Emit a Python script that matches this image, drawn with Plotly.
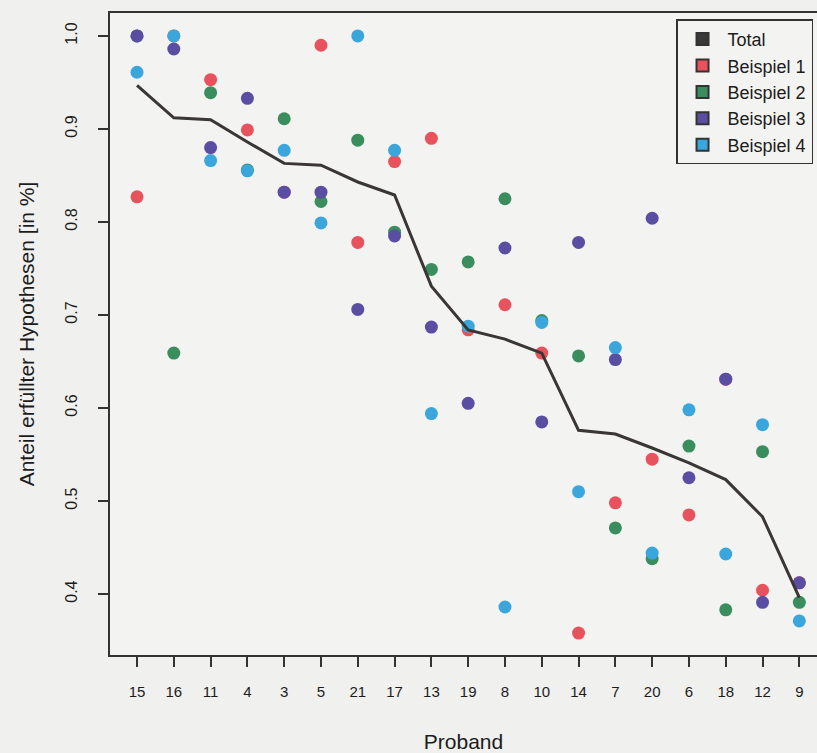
import plotly.graph_objects as go

probanden = ["15", "16", "11", "4", "3", "5", "21", "17", "13", "19",
             "8", "10", "14", "7", "20", "6", "18", "12", "9"]

total = [0.947, 0.912, 0.910, 0.886, 0.863, 0.861, 0.843, 0.829, 0.731, 0.684,
         0.674, 0.659, 0.576, 0.572, 0.557, 0.541, 0.523, 0.483, 0.396]
beispiel1 = [0.827, 1.000, 0.953, 0.899, 0.832, 0.990, 0.778, 0.865, 0.890, 0.684,
             0.711, 0.659, 0.358, 0.498, 0.545, 0.485, 0.631, 0.404, 0.412]
beispiel2 = [1.000, 0.659, 0.939, 0.856, 0.911, 0.822, 0.888, 0.789, 0.749, 0.757,
             0.825, 0.694, 0.656, 0.471, 0.438, 0.559, 0.383, 0.553, 0.391]
beispiel3 = [1.000, 0.986, 0.880, 0.933, 0.832, 0.832, 0.706, 0.785, 0.687, 0.605,
             0.772, 0.585, 0.778, 0.652, 0.804, 0.525, 0.631, 0.391, 0.412]
beispiel4 = [0.961, 1.000, 0.866, 0.855, 0.877, 0.799, 1.000, 0.877, 0.594, 0.688,
             0.386, 0.692, 0.510, 0.665, 0.444, 0.598, 0.443, 0.582, 0.371]

series = [("Beispiel 1", beispiel1, "#e8525c"),
          ("Beispiel 2", beispiel2, "#3a8d5c"),
          ("Beispiel 3", beispiel3, "#5a4ea2"),
          ("Beispiel 4", beispiel4, "#3aa6dc")]

font = "Liberation Sans, Arial, sans-serif"
ink = "#1c1c1c"

fig = go.Figure()

for name, vals, col in series:
    fig.add_trace(go.Scatter(x=probanden, y=vals, mode="markers", name=name,
                             showlegend=False,
                             marker=dict(size=13, color=col, line=dict(width=0))))

fig.add_trace(go.Scatter(x=probanden, y=total, mode="lines", name="Total",
                         showlegend=False, line=dict(color="#3a3636", width=3)))

# legend entries (square swatches)
fig.add_trace(go.Scatter(x=[None], y=[None], mode="markers", name="Total",
                         marker=dict(symbol="square", size=13, color="#3a3838",
                                     line=dict(color="#333", width=1.5))))
for name, vals, col in series:
    fig.add_trace(go.Scatter(x=[None], y=[None], mode="markers", name=name,
                             marker=dict(symbol="square", size=13, color=col,
                                         line=dict(color="#333", width=1.5))))

fig.update_layout(
    width=817, height=753,
    margin=dict(l=110, r=0, t=13, b=98),
    paper_bgcolor="#f0f0ee",
    plot_bgcolor="#f3f3f1",
    font=dict(family=font, color=ink, size=15),
    legend=dict(x=0.8006, y=0.99, xanchor="left", yanchor="top",
                bgcolor="rgba(0,0,0,0)", bordercolor="#333", borderwidth=1.5,
                font=dict(size=18, color=ink, family=font),
                entrywidth=130, entrywidthmode="pixels",
                itemsizing="constant", itemwidth=40, tracegroupgap=0),
)

fig.update_xaxes(type="category", categoryorder="array", categoryarray=probanden,
                 range=[-0.734, 18.48], showgrid=False, zeroline=False,
                 showline=True, mirror=True, linecolor="#333", linewidth=2,
                 ticks="outside", ticklen=10, tickwidth=1.5, tickcolor="#333",
                 ticklabelstandoff=12,
                 tickfont=dict(size=15, family=font, color=ink),
                 title=dict(text="Proband", font=dict(size=21, family=font, color=ink),
                            standoff=36))

fig.update_yaxes(range=[0.3344, 1.0247], showgrid=False, zeroline=False,
                 showline=True, mirror=False, linecolor="#333", linewidth=2,
                 tickvals=[0.4, 0.5, 0.6, 0.7, 0.8, 0.9, 1.0],
                 ticktext=["0.4", "0.5", "0.6", "0.7", "0.8", "0.9", "1.0"],
                 ticks="outside", ticklen=10, tickwidth=1.5, tickcolor="#333",
                 tickangle=-90, ticklabelstandoff=15,
                 tickfont=dict(size=16, family=font, color=ink),
                 title=dict(text="Anteil erfüllter Hypothesen [in %]",
                            font=dict(size=21, family=font, color=ink),
                            standoff=22))

fig.write_html("out.html", config={"displayModeBar": False},
               post_script="document.body.style.margin='0';"
                           "document.body.style.overflow='hidden';")
